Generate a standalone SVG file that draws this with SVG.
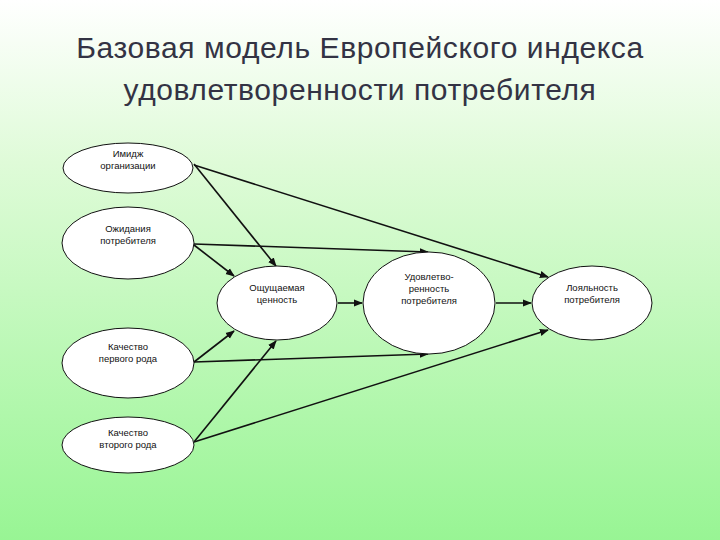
<svg xmlns="http://www.w3.org/2000/svg" width="720" height="540" viewBox="0 0 720 540">
<defs>
<linearGradient id="bg" x1="0" y1="0" x2="0" y2="1">
<stop offset="0" stop-color="#ffffff"/>
<stop offset="0.3" stop-color="#dffbd8"/>
<stop offset="1" stop-color="#98f594"/>
</linearGradient>
<marker id="ah" viewBox="0 0 10 10" refX="9" refY="5" markerWidth="9" markerHeight="9" markerUnits="userSpaceOnUse" orient="auto">
<path d="M0,1 L10,5 L0,9 z" fill="#111"/>
</marker>
<style>
.n ellipse{fill:#fff;stroke:#111;stroke-width:1}
.n text{font-family:"Liberation Sans",Arial,sans-serif;font-size:9.5px;fill:#111;text-anchor:middle}
#edges line{stroke:#111;stroke-width:1.6;marker-end:url(#ah)}
.t{font-family:"Liberation Sans",Arial,sans-serif;font-size:30px;letter-spacing:0.6px;fill:#333344;text-anchor:middle}
</style>
</defs>
<rect width="720" height="540" fill="url(#bg)"/>
<text class="t" x="360" y="58">Базовая модель Европейского индекса</text>
<text class="t" x="360" y="100">удовлетворенности потребителя</text>
<g id="edges">
<line x1="194" y1="165" x2="548" y2="277"/>
<line x1="194" y1="164" x2="276" y2="266"/>
<line x1="194" y1="244" x2="428" y2="252"/>
<line x1="194" y1="245" x2="234" y2="276"/>
<line x1="338" y1="303" x2="362" y2="303"/>
<line x1="496" y1="303" x2="531" y2="303"/>
<line x1="194" y1="362" x2="234" y2="331"/>
<line x1="194" y1="362" x2="428" y2="354"/>
<line x1="194" y1="442" x2="276" y2="341"/>
<line x1="194" y1="442" x2="548" y2="330"/>
</g>
<g id="n1" class="n"><ellipse cx="128" cy="168" rx="65" ry="25"/><text x="128" y="157">Имидж</text><text x="128" y="169">организации</text></g>
<g id="n2" class="n"><ellipse cx="128" cy="243" rx="66" ry="36"/><text x="128" y="232">Ожидания</text><text x="128" y="244">потребителя</text></g>
<g id="n3" class="n"><ellipse cx="128" cy="363" rx="66" ry="35"/><text x="128" y="350">Качество</text><text x="128" y="362">первого рода</text></g>
<g id="n4" class="n"><ellipse cx="128" cy="445" rx="66" ry="28"/><text x="128" y="436">Качество</text><text x="128" y="448">второго рода</text></g>
<g id="n5" class="n"><ellipse cx="277" cy="303" rx="60" ry="37"/><text x="277" y="291">Ощущаемая</text><text x="277" y="303">ценность</text></g>
<g id="n6" class="n"><ellipse cx="429" cy="303" rx="66" ry="51"/><text x="429" y="280">Удовлетво-</text><text x="429" y="292">ренность</text><text x="429" y="304">потребителя</text></g>
<g id="n7" class="n"><ellipse cx="592" cy="303" rx="60" ry="37"/><text x="592" y="291">Лояльность</text><text x="592" y="303">потребителя</text></g>
</svg>
